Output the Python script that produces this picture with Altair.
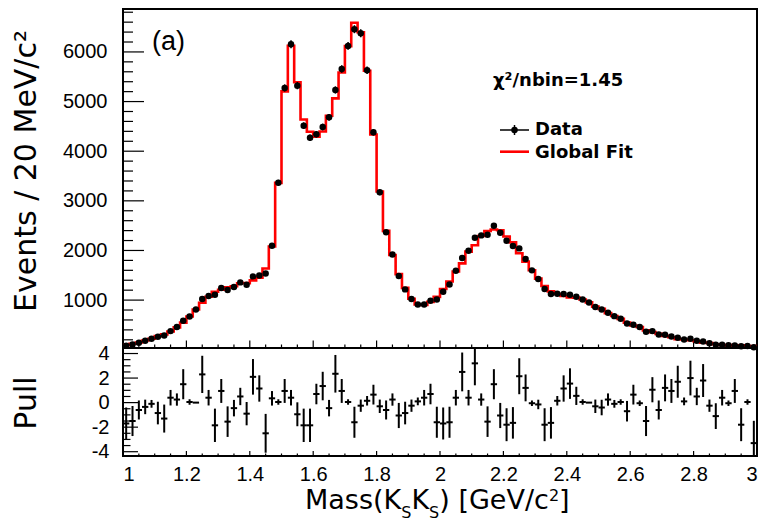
import altair as alt
import numpy as np
import pandas as pd

# ---------------- data ----------------
counts = [80, 107, 140, 180, 220, 260, 288, 375, 456, 583,
          671, 812, 1020, 1081, 1107, 1242, 1202, 1262, 1357, 1309,
          1478, 1498, 1538, 2095, 3365, 5274, 6155, 5321, 4514, 4272,
          4340, 4488, 4683, 5234, 5657, 6121, 6458, 6377, 5631, 4381,
          3171, 2365, 1921, 1484, 1216, 1020, 913, 913, 986, 1014,
          1167, 1316, 1591, 1847, 1994, 2256, 2304, 2317, 2498, 2357,
          2196, 2089, 2042, 1827, 1599, 1427, 1222, 1121, 1127, 1121,
          1107, 1067, 1014, 954, 859, 812, 745, 677, 623, 530,
          502, 456, 361, 375, 308, 300, 268, 240, 208, 220,
          179, 167, 133, 99, 99, 92, 86, 72, 75, 50]

fit_vals = [95, 122, 147, 185, 221, 274, 310, 367, 451, 547,
            670, 812, 947, 1068, 1169, 1209, 1256, 1278, 1339, 1342,
            1397, 1453, 1636, 2079, 3362, 5205, 6124, 5390, 4638, 4393,
            4294, 4398, 4714, 5064, 5586, 6117, 6587, 6397, 5620, 4338,
            3188, 2394, 1910, 1524, 1246, 1028, 910, 901, 964, 1065,
            1225, 1374, 1575, 1740, 1976, 2104, 2292, 2392, 2423, 2408,
            2280, 2164, 1945, 1776, 1601, 1433, 1285, 1176, 1122, 1083,
            1055, 1049, 1012, 954, 868, 823, 738, 680, 622, 546,
            487, 457, 390, 355, 319, 279, 252, 214, 207, 190,
            172, 144, 136, 110, 95, 92, 77, 87, 75, 73]

pulls = [-1.7, -1.5, -0.6, -0.35, -0.1, -0.85, -1.3, 0.4, 0.25, 1.5,
         0.05, 0.0, 2.3, 0.4, -1.85, 0.95, -1.55, -0.45, 0.5, -0.9,
         2.1, 1.15, -2.5, 0.35, 0.05, 0.95, 0.4, -0.95, -1.85, -1.85,
         0.7, 1.35, -0.45, 2.35, 0.95, 0.05, -1.6, -0.25, 0.15, 0.65,
         -0.3, -0.6, 0.25, -1.05, -0.85, -0.25, 0.1, 0.4, 0.7, -1.6,
         -1.7, -1.6, 0.4, 2.5, 0.4, 3.2, 0.25, -1.55, 1.5, -1.05,
         -1.8, -1.65, 2.15, 1.2, -0.05, -0.15, -1.8, -1.65, 0.15, 1.15,
         1.55, 0.55, 0.05, 0.0, -0.3, -0.4, 0.25, -0.1, 0.05, -0.7,
         0.65, -0.05, -1.5, 1.05, -0.6, 1.2, 0.95, 1.7, 0.1, 2.0,
         0.5, 1.8, -0.25, -1.1, 0.4, -0.05, 0.95, -1.8, 0.05, -3.3]

x_label_values = [1.0, 1.2, 1.4, 1.6, 1.8, 2.0, 2.2, 2.4, 2.6, 2.8, 3.0]
y_top_label_values = [1000, 2000, 3000, 4000, 5000, 6000]
y_pull_label_values = [-4, -2, 0, 2, 4]

# ---------------- layout constants ----------------
W, H1, H2 = 634, 339, 108
LF = "Liberation Sans"
TF = "DejaVu Sans"

nb = len(counts)
edges = np.round(1.0 + 0.02 * np.arange(nb + 1), 2)
df = pd.DataFrame({
    "xc": np.round((edges[:-1] + edges[1:]) / 2, 3),
    "xlo": edges[:-1],
    "xhi": edges[1:],
    "counts": counts,
    "pull": pulls,
})
step = pd.DataFrame({"x": edges, "fit": fit_vals + [fit_vals[-1]]})

xs = alt.Scale(domain=[1.0, 3.0], nice=False, zero=False)
ys1 = alt.Scale(domain=[35, 6865], nice=False, zero=False)
ys2 = alt.Scale(domain=[-4.35, 4.45], nice=False, zero=False)

yaxis1 = alt.Axis(values=y_top_label_values, format="d", ticks=False, domain=False, grid=False,
                  labelFont=LF, labelFontSize=20, labelColor="black", labelPadding=16,
                  title="Events / 20 MeV/c²", titleFont=TF, titleFontSize=30,
                  titleFontWeight="normal", titleColor="black", titleAngle=270,
                  titleX=-88, titleY=161.5, titleAlign="center", titleBaseline="alphabetic")
yaxis2 = alt.Axis(values=y_pull_label_values, ticks=False, domain=False, grid=False,
                  labelFont=LF, labelFontSize=20, labelColor="black", labelPadding=14,
                  labelExpr="datum.value < 0 ? '-' + format(-datum.value, 'd') : format(datum.value, 'd')",
                  title="Pull", titleFont=TF, titleFontSize=30,
                  titleFontWeight="normal", titleColor="black", titleAngle=270,
                  titleX=-88, titleY=54.5, titleAlign="center", titleBaseline="alphabetic")
xaxis2 = alt.Axis(values=x_label_values, format="~g", ticks=False, domain=False, grid=False,
                  labelFont=LF, labelFontSize=20, labelColor="black", labelPadding=8,
                  title=None)

one = pd.DataFrame({"d": [0]})

# tick positions
x_all = np.round(np.arange(1.0, 3.0001, 0.05), 2)
x_major = [v for v in x_all if abs(v * 5 - round(v * 5)) < 1e-6]
x_minor = [v for v in x_all if abs(v * 5 - round(v * 5)) >= 1e-6]
y1_major = y_top_label_values
y1_minor = [v for v in range(200, 6801, 200) if v % 1000 != 0]
y2_major = y_pull_label_values
y2_minor = [-3.5, -3, -2.5, -1.5, -1, -0.5, 0.5, 1, 1.5, 2.5, 3, 3.5]


def yticks(vals, scale, axis, length):
    return alt.Chart(pd.DataFrame({"v": vals})).mark_rule(color="black", strokeWidth=1.2).encode(
        y=alt.Y("v:Q", scale=scale, axis=axis), x=alt.value(0), x2=alt.value(length))


def xticks(vals, axis, h, length):
    return alt.Chart(pd.DataFrame({"v": vals})).mark_rule(color="black", strokeWidth=1.2).encode(
        x=alt.X("v:Q", scale=xs, axis=axis), y=alt.value(h), y2=alt.value(h - length))


def label(text, x, y, size, font=LF, weight="normal", color="black", baseline="middle"):
    return alt.Chart(one).mark_text(text=text, font=font, fontSize=size, fontWeight=weight,
                                    align="left", baseline=baseline, color=color).encode(
        x=alt.value(x), y=alt.value(y))


# ---------------- top panel ----------------
fit_line = alt.Chart(step).mark_line(interpolate="step-after", color="#ff0000", strokeWidth=2.6).encode(
    x=alt.X("x:Q", scale=xs, axis=None),
    y=alt.Y("fit:Q", scale=ys1, axis=yaxis1))

data_err = alt.Chart(df).transform_calculate(
    lo="datum.counts - sqrt(datum.counts)", hi="datum.counts + sqrt(datum.counts)"
).mark_rule(color="black", strokeWidth=1.5).encode(
    x=alt.X("xc:Q", scale=xs, axis=None),
    y=alt.Y("lo:Q", scale=ys1, axis=yaxis1), y2="hi:Q")

data_pts = alt.Chart(df).mark_circle(color="black", size=42, opacity=1).encode(
    x=alt.X("xc:Q", scale=xs, axis=None),
    y=alt.Y("counts:Q", scale=ys1, axis=yaxis1))

leg_line_data = alt.Chart(one).mark_rule(color="black", strokeWidth=1.5).encode(
    x=alt.value(377), x2=alt.value(406), y=alt.value(121))
leg_vbar_data = alt.Chart(one).mark_rule(color="black", strokeWidth=1.5).encode(
    x=alt.value(391.5), y=alt.value(116), y2=alt.value(126))
leg_dot = alt.Chart(one).mark_circle(color="black", size=42, opacity=1).encode(
    x=alt.value(391.5), y=alt.value(121))
leg_line_fit = alt.Chart(one).mark_rule(color="#ff0000", strokeWidth=2.6).encode(
    x=alt.value(377), x2=alt.value(406), y=alt.value(142.7))

top = alt.layer(
    yticks(y1_major, ys1, yaxis1, 21),
    yticks(y1_minor, ys1, yaxis1, 10),
    xticks(x_major, None, H1, 7.5),
    xticks(x_minor, None, H1, 3.5),
    fit_line, data_err, data_pts,
    leg_line_data, leg_vbar_data, leg_dot, leg_line_fit,
    label("χ²/nbin=1.45", 370, 71.7, 18, TF, "bold"),
    label("Data", 412, 121, 18, TF, "bold"),
    label("Global Fit", 412, 143.7, 18, TF, "bold"),
    label("(a)", 29, 33, 27, LF),
).properties(width=W, height=H1)

# ---------------- pull panel ----------------
pull_v = alt.Chart(df).transform_calculate(
    lo="datum.pull - sqrt(abs(datum.pull))", hi="datum.pull + sqrt(abs(datum.pull))"
).mark_rule(color="black", strokeWidth=2, clip=True).encode(
    x=alt.X("xc:Q", scale=xs, axis=xaxis2),
    y=alt.Y("lo:Q", scale=ys2, axis=yaxis2), y2="hi:Q")

pull_h = alt.Chart(df).mark_rule(color="black", strokeWidth=2, clip=True).encode(
    x=alt.X("xlo:Q", scale=xs, axis=xaxis2), x2="xhi:Q",
    y=alt.Y("pull:Q", scale=ys2, axis=yaxis2))

XT = 27
SUB = 16
BASE = 161
bottom = alt.layer(
    yticks(y2_major, ys2, yaxis2, 15),
    yticks(y2_minor, ys2, yaxis2, 7.5),
    xticks(x_major, xaxis2, H2, 5),
    xticks(x_minor, xaxis2, H2, 2.5),
    pull_v, pull_h,
    label("Mass(K", 182, BASE, XT, TF, baseline="alphabetic"),
    label("S", 278.2, BASE + 9, SUB, TF, baseline="alphabetic"),
    label("K", 288.4, BASE, XT, TF, baseline="alphabetic"),
    label("S", 306.1, BASE + 9, SUB, TF, baseline="alphabetic"),
    label(") [GeV/c", 316.3, BASE, XT, TF, baseline="alphabetic"),
    label("2", 425.9, BASE - 8, SUB, TF, baseline="alphabetic"),
    label("]", 436.1, BASE, XT, TF, baseline="alphabetic"),
).properties(width=W, height=H2)

chart = alt.vconcat(top, bottom, spacing=0, bounds="flush").properties(
    padding={"left": 2, "top": 0, "right": 0, "bottom": 0},
    background="white",
).configure_view(stroke="black", strokeWidth=2)

chart.save("out.html", embed_options={"renderer": "svg", "actions": False})
